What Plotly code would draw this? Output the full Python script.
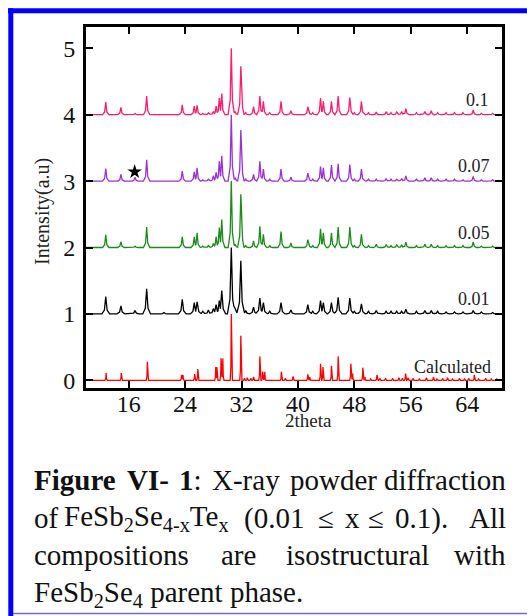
import plotly.graph_objects as go

# ---- peak lists (2theta, relative intensity) ----
exp_pos = [12.75, 14.9, 16.9, 18.55, 21.0, 23.6, 25.3, 25.7, 26.5, 27.3, 28.0, 28.4,
           28.85, 29.2, 30.55, 31.1, 31.9, 32.6, 33.7, 34.6, 35.1, 36.0, 37.6, 39.0,
           41.4, 42.1, 43.2, 43.6, 44.75, 45.7, 47.35, 48.0, 49.0, 50.0, 51.1, 52.5,
           53.2, 54.0, 54.7, 55.3, 56.8, 58.0, 58.9, 59.8, 61.0, 62.2, 63.4, 64.85,
           66.0, 67.6]

int_x010 = [0.19, 0.11, 0.02, 0.28, 0.01, 0.15, 0.13, 0.14, 0.02, 0.03, 0.05, 0.13,
            0.25, 0.32, 1.00, 0.05, 0.73, 0.03, 0.12, 0.28, 0.20, 0.03, 0.20, 0.06,
            0.12, 0.03, 0.25, 0.20, 0.20, 0.28, 0.26, 0.03, 0.20, 0.03, 0.04, 0.04,
            0.03, 0.04, 0.05, 0.09, 0.03, 0.05, 0.06, 0.03, 0.03, 0.03, 0.03, 0.07,
            0.02, 0.02]
int_x007 = [0.19, 0.10, 0.06, 0.32, 0.01, 0.15, 0.14, 0.20, 0.02, 0.03, 0.08, 0.13,
            0.30, 0.38, 1.00, 0.05, 0.77, 0.03, 0.10, 0.30, 0.18, 0.03, 0.18, 0.06,
            0.12, 0.03, 0.22, 0.20, 0.24, 0.26, 0.25, 0.03, 0.18, 0.03, 0.03, 0.04,
            0.03, 0.03, 0.04, 0.08, 0.03, 0.05, 0.05, 0.03, 0.03, 0.03, 0.02, 0.07,
            0.02, 0.02]
int_x005 = [0.19, 0.09, 0.02, 0.31, 0.01, 0.16, 0.16, 0.22, 0.02, 0.03, 0.06, 0.16,
            0.30, 0.42, 1.00, 0.05, 0.80, 0.03, 0.10, 0.32, 0.20, 0.03, 0.24, 0.07,
            0.12, 0.03, 0.28, 0.22, 0.22, 0.31, 0.31, 0.03, 0.20, 0.03, 0.05, 0.04,
            0.03, 0.04, 0.04, 0.08, 0.03, 0.05, 0.05, 0.03, 0.03, 0.03, 0.03, 0.085,
            0.02, 0.02]
int_x001 = [0.26, 0.12, 0.05, 0.38, 0.02, 0.22, 0.17, 0.18, 0.04, 0.06, 0.08, 0.14,
            0.20, 0.35, 1.00, 0.08, 0.80, 0.05, 0.10, 0.24, 0.17, 0.04, 0.17, 0.06,
            0.14, 0.04, 0.20, 0.17, 0.17, 0.25, 0.24, 0.04, 0.15, 0.04, 0.05, 0.04,
            0.04, 0.04, 0.04, 0.07, 0.04, 0.05, 0.05, 0.04, 0.03, 0.03, 0.03, 0.05,
            0.03, 0.02]

calc_pos = [12.8, 14.95, 18.65, 23.5, 23.7, 25.35, 25.8, 28.35, 28.5, 29.1, 29.35,
            30.55, 31.9, 32.4, 32.8, 33.3, 33.7, 34.6, 35.0, 35.3, 37.65, 38.2, 39.3,
            41.4, 41.7, 43.2, 43.55, 44.75, 45.7, 47.5, 47.75, 49.2, 49.5, 50.3, 51.2,
            51.6, 52.4, 53.4, 54.3, 54.8, 55.25, 55.6, 56.3, 57.2, 58.2, 59.2, 59.7,
            60.5, 61.2, 61.9, 62.9, 63.6, 64.2, 65.0, 65.6, 66.6, 67.4, 68.2]
calc_int = [0.11, 0.11, 0.28, 0.08, 0.08, 0.095, 0.17, 0.20, 0.20, 0.33, 0.33,
            1.00, 0.67, 0.03, 0.04, 0.03, 0.05, 0.36, 0.13, 0.13, 0.13, 0.03, 0.06,
            0.09, 0.05, 0.25, 0.20, 0.22, 0.36, 0.25, 0.10, 0.19, 0.05, 0.02, 0.08,
            0.03, 0.03, 0.03, 0.04, 0.03, 0.10, 0.04, 0.03, 0.02, 0.04, 0.05, 0.02,
            0.03, 0.04, 0.02, 0.03, 0.02, 0.03, 0.08, 0.02, 0.03, 0.02, 0.02]

series = [
    # name, positions, intensities, vertical offset, half base width, colour
    ("Calculated", calc_pos, calc_int, 0, 0.16, "#ff0000"),
    ("0.01", exp_pos, int_x001, 1, 0.55, "#000000"),
    ("0.05", exp_pos, int_x005, 2, 0.45, "#1a8c1a"),
    ("0.07", exp_pos, int_x007, 3, 0.45, "#9b30d6"),
    ("0.1", exp_pos, int_x010, 4, 0.45, "#ff1a6e"),
]

label_pos = {"0.1": (65.5, 4.22), "0.07": (65.0, 3.23), "0.05": (65.0, 2.22),
             "0.01": (64.9, 1.22), "Calculated": (61.9, 0.20)}

X_MIN, X_MAX = 9.95, 68.93
Y_MIN, Y_MAX = -0.116, 5.321


def pattern(positions, heights, w):
    """Piecewise-linear peak profile: sharp tip, short tails."""
    knots = [(-w, 0.0), (-0.35 * w, 0.22), (0.0, 1.0), (0.35 * w, 0.22), (w, 0.0)]
    xs = {X_MIN, X_MAX}
    for p in positions:
        for dx, _ in knots:
            xs.add(round(p + dx, 4))
    xs = sorted(xs)

    def one(x, p, h):
        d = x - p
        if d <= -w or d >= w:
            return 0.0
        for (x0, y0), (x1, y1) in zip(knots[:-1], knots[1:]):
            if x0 <= d <= x1:
                return h * (y0 + (y1 - y0) * (d - x0) / (x1 - x0))
        return 0.0

    ys = [max([0.0] + [one(x, p, h) for p, h in zip(positions, heights)]) for x in xs]
    return xs, ys


fig = go.Figure()
for name, pos, ints, off, w, col in series:
    xs, ys = pattern(pos, ints, w)
    fig.add_trace(go.Scatter(x=xs, y=[v + off for v in ys], mode="lines",
                             line=dict(color=col, width=1.3), name=name,
                             showlegend=False, hoverinfo="skip"))

# impurity marker
fig.add_trace(go.Scatter(x=[16.85], y=[3.14], mode="markers",
                         marker=dict(symbol="star", size=11, color="black"),
                         showlegend=False, hoverinfo="skip"))

SERIF = "Liberation Serif"

for name, (lx, ly) in label_pos.items():
    fig.add_annotation(x=lx, y=ly, xref="x", yref="y", text=name, showarrow=False,
                       font=dict(family=SERIF, size=18, color="#222222"))

# page geometry (pixels) -> paper coordinates
W, H = 527, 616
ML, MR, MT, MB = 86, 25, 27, 228
PW, PH = W - ML - MR, H - MT - MB


def px(x):
    return (x - ML) / PW


def py(y):
    return (H - MB - y) / PH


fig.add_annotation(x=px(308), y=py(420), xref="paper", yref="paper", text="2theta",
                   xanchor="center", yanchor="middle", showarrow=False,
                   font=dict(family=SERIF, size=19, color="#222222"))
fig.add_annotation(x=px(42), y=py(212), xref="paper", yref="paper",
                   text="Intensity(a.u)", textangle=-90, xanchor="center",
                   yanchor="middle", showarrow=False,
                   font=dict(family=SERIF, size=20, color="#222222"))

# caption, justified word by word
CAP = 29
caption_words = [
    # (text, x pixel, anchor, y pixel centre)
    ("<b>Figure</b>", 32, "left", 480),
    ("<b>VI-</b>", 124.7, "left", 480),
    ("<b>1</b>:", 177.1, "left", 480),
    ("X-ray", 210.2, "left", 480),
    ("powder", 288.3, "left", 480),
    ("diffraction", 508, "right", 480),
    ("of", 32, "left", 518),
    ("FeSb<sub>2</sub>Se<sub>4-x</sub>Te<sub>x</sub>", 62, "left", 518),
    ("(0.01", 242, "left", 518),
    ("≤", 316, "left", 518),
    ("x", 343, "left", 518),
    ("≤", 366, "left", 518),
    ("0.1).", 393, "left", 518),
    ("All", 508, "right", 518),
    ("compositions", 32, "left", 555),
    ("are", 218.5, "left", 555),
    ("isostructural", 284, "left", 555),
    ("with", 508, "right", 555),
    ("FeSb<sub>2</sub>Se<sub>4</sub> parent phase.", 32, "left", 594),
]
for txt, x, anc, y in caption_words:
    fig.add_annotation(x=px(x), y=py(y), xref="paper", yref="paper", text=txt,
                       xanchor=anc, yanchor="middle", showarrow=False,
                       font=dict(family=SERIF, size=CAP, color="#111111"))

# blue frame
BLUE = "#0000ff"
fig.add_shape(type="rect", xref="paper", yref="paper", x0=px(8), x1=px(527),
              y0=py(13.3), y1=py(8.3), fillcolor=BLUE, line_width=0, layer="above")
fig.add_shape(type="rect", xref="paper", yref="paper", x0=px(8.3), x1=px(13.3),
              y0=py(616), y1=py(8.3), fillcolor=BLUE, line_width=0, layer="above")
fig.add_shape(type="line", xref="paper", yref="paper", x0=px(13), x1=px(527),
              y0=py(613.5), y1=py(613.5), line=dict(color="#6b6be6", width=1.5),
              layer="above")

tick_font = dict(family=SERIF, size=24, color="#111111")
axis_common = dict(showgrid=False, zeroline=False, showline=True, linewidth=3,
                   linecolor="black", mirror="ticks", ticks="inside", ticklen=7,
                   tickwidth=2, tickcolor="black", tickfont=tick_font)

fig.update_layout(
    width=W, height=H, margin=dict(l=ML, r=MR, t=MT, b=MB),
    paper_bgcolor="white", plot_bgcolor="white", showlegend=False,
    font=dict(family=SERIF, size=24, color="#111111"),
    xaxis=dict(range=[X_MIN, X_MAX], tick0=0, dtick=8, ticklabelstandoff=-8,
               **axis_common),
    yaxis=dict(range=[Y_MIN, Y_MAX], tick0=0, dtick=1, ticklabelstandoff=3,
               **axis_common),
)

fig.write_html("out.html")
